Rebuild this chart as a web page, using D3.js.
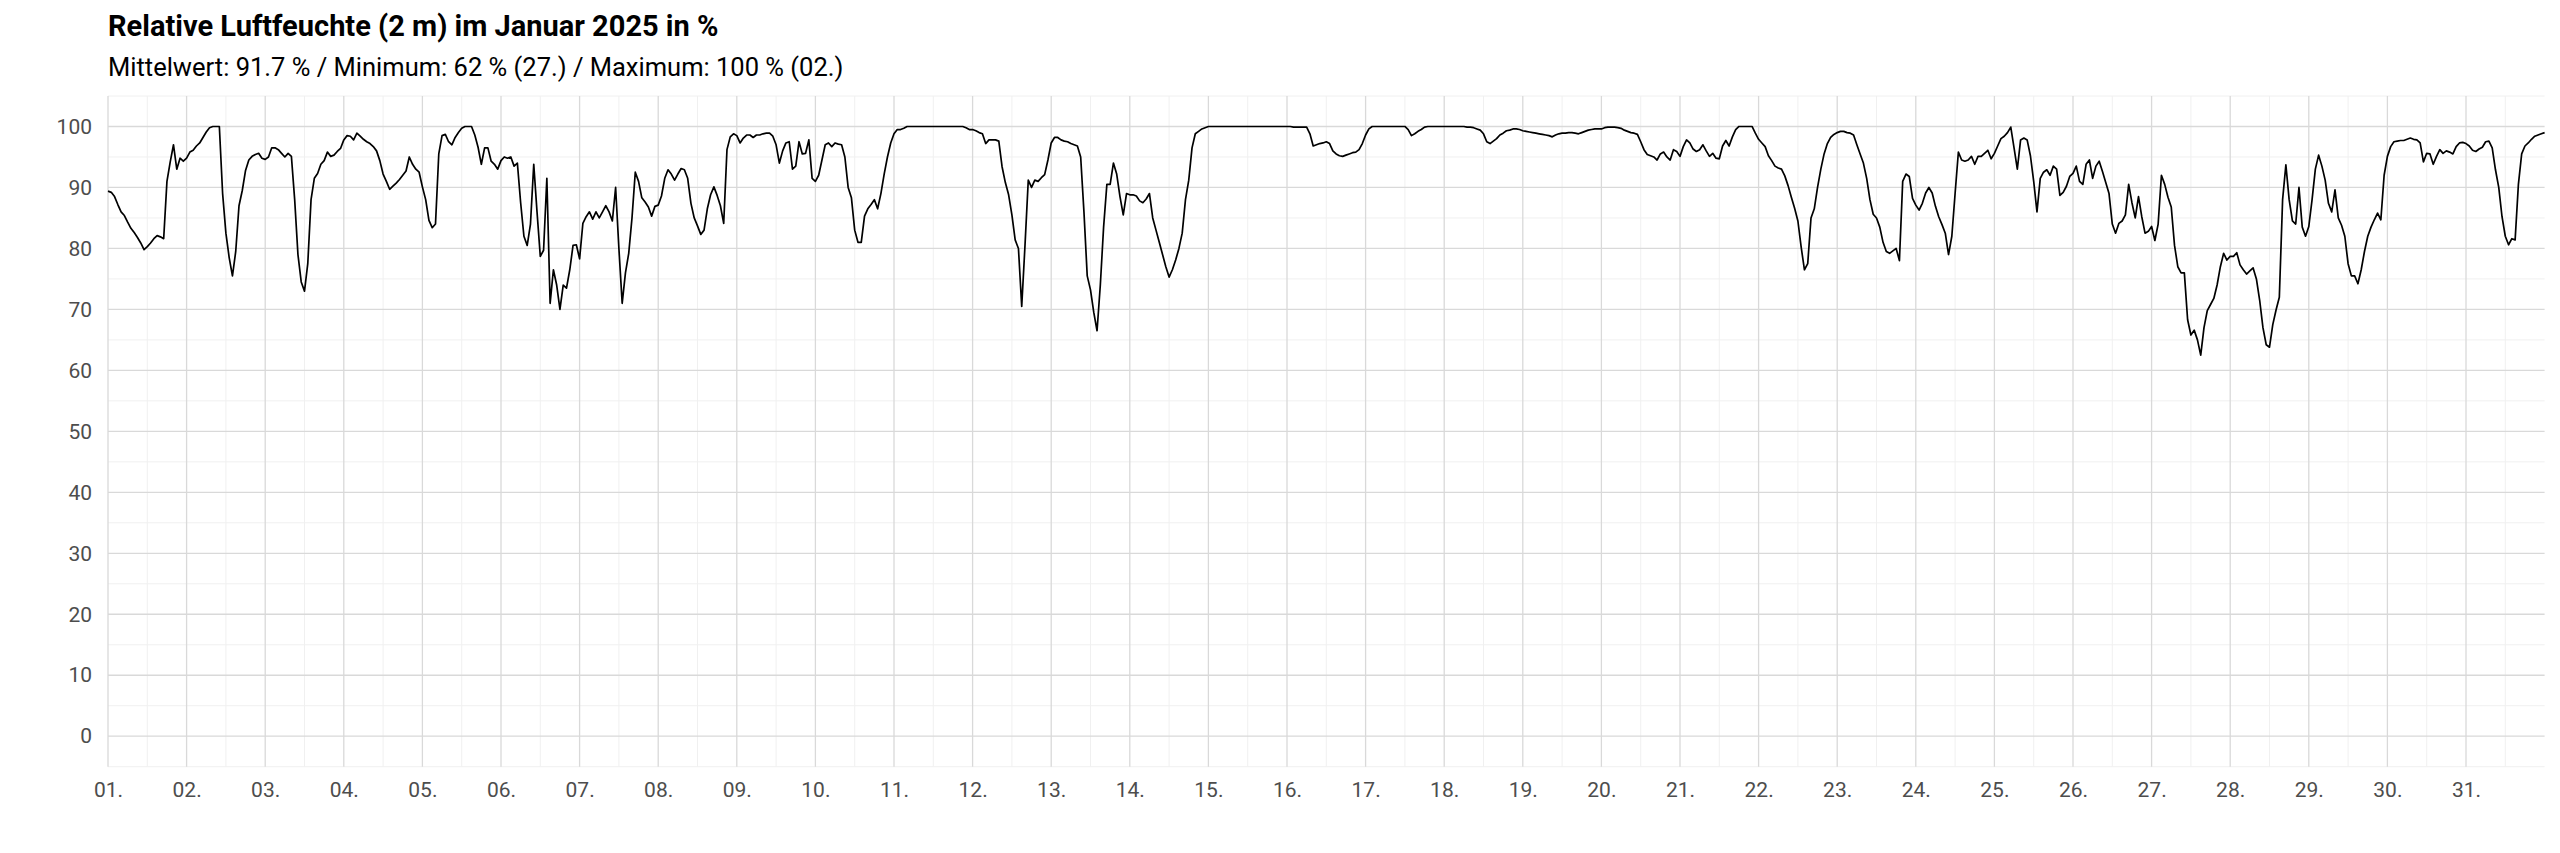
<!DOCTYPE html>
<html>
<head>
<meta charset="utf-8">
<script src="https://cdn.jsdelivr.net/npm/d3@7"></script>
<style>
  body { margin: 0; background: #fff; }
  svg { display: block; font-family: Roboto, "Noto Sans", sans-serif; }
</style>
</head>
<body>
<svg id="chart" width="2560" height="853"></svg>
<script>
// Titles
var title = "Relative Luftfeuchte (2 m) im Januar 2025 in %";
var subtitle = "Mittelwert: 91.7 % / Minimum: 62 % (27.) / Maximum: 100 % (02.)";

// Axis ticks
var yTicks = [0, 10, 20, 30, 40, 50, 60, 70, 80, 90, 100];
var yMinor = [-5, 5, 15, 25, 35, 45, 55, 65, 75, 85, 95, 105];

// Hourly relative humidity (%), one row per day, hours 00..23
var rh = [
  [89.4, 89.2, 88.5, 87.2, 86.0, 85.4, 84.3, 83.3, 82.6, 81.8, 80.9, 79.8, 80.3, 80.9, 81.6, 82.1, 81.9, 81.6, 91.0, 94.2, 97.0, 93.0, 94.8, 94.3],
  [94.8, 95.8, 96.1, 96.8, 97.3, 98.2, 99.1, 99.8, 100, 100, 100, 89.0, 82.5, 78.5, 75.5, 79.5, 87.0, 89.5, 92.8, 94.5, 95.1, 95.4, 95.6, 94.8],
  [94.6, 95.0, 96.5, 96.5, 96.2, 95.6, 95.0, 95.6, 95.1, 88.0, 79.0, 74.5, 73.0, 77.5, 88.0, 91.5, 92.3, 93.8, 94.4, 95.8, 95.1, 95.3, 95.9, 96.4],
  [97.8, 98.5, 98.4, 97.8, 98.9, 98.4, 97.9, 97.5, 97.2, 96.7, 96.0, 94.4, 92.2, 91.0, 89.7, 90.2, 90.7, 91.3, 92.0, 92.7, 95.0, 93.8, 93.0, 92.5],
  [90.1, 88.0, 84.6, 83.4, 84.0, 95.5, 98.5, 98.7, 97.5, 97.0, 98.2, 99.0, 99.7, 100, 100, 100, 98.6, 96.6, 93.8, 96.5, 96.5, 94.3, 93.8, 93.0],
  [94.4, 95.0, 94.8, 95.0, 93.5, 94.0, 87.5, 82.0, 80.5, 84.0, 93.8, 86.0, 78.7, 79.7, 91.5, 71.0, 76.5, 74.0, 70.0, 74.0, 73.5, 76.5, 80.5, 80.6],
  [78.3, 84.1, 85.2, 86.0, 84.8, 86.0, 85.0, 86.0, 87.0, 86.0, 84.5, 90.0, 80.0, 71.0, 76.0, 79.2, 85.0, 92.5, 91.0, 88.3, 87.6, 86.8, 85.3, 86.9],
  [87.1, 88.6, 91.5, 92.9, 92.2, 91.2, 92.2, 93.1, 92.9, 91.5, 87.4, 85.0, 83.7, 82.3, 83.0, 86.5, 88.8, 90.1, 88.7, 87.0, 84.1, 96.2, 98.3, 98.8],
  [98.5, 97.3, 98.1, 98.6, 98.6, 98.2, 98.6, 98.6, 98.8, 98.9, 98.9, 98.4, 97.0, 94.0, 96.0, 97.3, 97.5, 93.0, 93.5, 97.5, 95.5, 95.6, 97.8, 91.5],
  [91.0, 92.0, 94.5, 97.0, 97.3, 96.7, 97.3, 97.1, 97.0, 95.0, 90.0, 88.3, 83.0, 81.0, 81.0, 85.3, 86.5, 87.2, 88.0, 86.5, 89.0, 92.2, 95.0, 97.3],
  [98.8, 99.5, 99.5, 99.7, 100, 100, 100, 100, 100, 100, 100, 100, 100, 100, 100, 100, 100, 100, 100, 100, 100, 100, 99.8, 99.5],
  [99.5, 99.3, 99.0, 98.8, 97.2, 97.8, 97.8, 97.8, 97.6, 93.4, 90.8, 88.8, 85.5, 81.4, 80.0, 70.5, 80.5, 91.2, 90.0, 91.2, 91.0, 91.6, 92.1, 94.5],
  [97.3, 98.2, 98.2, 97.8, 97.6, 97.5, 97.2, 97.0, 96.8, 95.0, 86.0, 75.5, 73.2, 69.5, 66.5, 74.0, 83.5, 90.5, 90.5, 94.0, 92.2, 88.5, 85.5, 89.0],
  [88.8, 88.8, 88.6, 87.8, 87.5, 88.1, 89.0, 85.0, 83.0, 81.0, 79.0, 77.0, 75.3, 76.5, 78.1, 80.0, 82.5, 88.0, 91.2, 96.5, 98.8, 99.2, 99.6, 99.8],
  [100, 100, 100, 100, 100, 100, 100, 100, 100, 100, 100, 100, 100, 100, 100, 100, 100, 100, 100, 100, 100, 100, 100, 100],
  [100, 100, 99.9, 99.9, 99.9, 99.9, 99.9, 98.8, 96.8, 97.0, 97.2, 97.3, 97.5, 97.2, 96.0, 95.5, 95.2, 95.1, 95.3, 95.5, 95.7, 95.8, 96.2, 97.2],
  [98.6, 99.6, 100, 100, 100, 100, 100, 100, 100, 100, 100, 100, 100, 99.5, 98.5, 98.8, 99.2, 99.5, 99.9, 100, 100, 100, 100, 100],
  [100, 100, 100, 100, 100, 100, 100, 99.9, 99.9, 99.8, 99.6, 99.4, 98.8, 97.5, 97.2, 97.6, 98.0, 98.6, 98.9, 99.3, 99.4, 99.6, 99.6, 99.5],
  [99.3, 99.2, 99.1, 99.0, 98.9, 98.8, 98.7, 98.6, 98.5, 98.3, 98.6, 98.8, 98.9, 98.9, 99.0, 99.0, 98.9, 98.8, 99.0, 99.2, 99.4, 99.5, 99.6, 99.6],
  [99.6, 99.8, 99.9, 99.9, 99.9, 99.8, 99.7, 99.4, 99.2, 99.0, 98.9, 98.7, 97.5, 96.2, 95.4, 95.2, 95.0, 94.5, 95.5, 95.8, 95.0, 94.5, 96.2, 95.9],
  [95.1, 96.7, 97.8, 97.3, 96.3, 95.9, 96.2, 97.0, 96.0, 95.1, 95.6, 94.8, 94.7, 96.8, 97.7, 96.8, 98.3, 99.5, 100, 100, 100, 100, 100, 98.9],
  [97.9, 97.3, 96.7, 95.2, 94.4, 93.5, 93.2, 93.0, 91.9, 90.3, 88.4, 86.6, 84.5, 80.2, 76.5, 77.5, 85.0, 86.5, 90.0, 93.0, 95.5, 97.2, 98.2, 98.7],
  [99.0, 99.2, 99.2, 99.0, 98.9, 98.6, 97.0, 95.5, 94.0, 91.5, 88.0, 85.6, 85.0, 83.5, 81.0, 79.5, 79.2, 79.6, 80.0, 78.0, 91.0, 92.2, 91.8, 88.2],
  [87.1, 86.3, 87.4, 89.1, 90.0, 89.1, 86.9, 85.2, 83.9, 82.5, 79.0, 82.0, 89.0, 95.8, 94.5, 94.3, 94.5, 95.1, 93.8, 95.1, 95.1, 95.6, 96.1, 94.7],
  [95.6, 96.8, 98.0, 98.4, 99.0, 99.9, 96.5, 93.0, 97.8, 98.1, 97.8, 95.2, 91.0, 86.0, 91.5, 92.5, 92.9, 92.0, 93.5, 93.0, 88.7, 89.2, 90.2, 91.8],
  [92.3, 93.5, 91.0, 90.5, 93.8, 94.5, 91.5, 93.5, 94.3, 92.6, 90.8, 89.0, 84.0, 82.5, 84.1, 84.5, 85.5, 90.5, 87.5, 85.0, 88.5, 85.2, 82.5, 82.8],
  [83.6, 81.3, 84.0, 92.0, 90.5, 88.4, 86.8, 80.5, 77.0, 76.0, 76.0, 68.3, 65.8, 66.6, 65.0, 62.5, 67.0, 69.8, 70.8, 71.8, 74.0, 77.0, 79.2, 78.1],
  [78.7, 78.7, 79.3, 77.3, 76.5, 75.8, 76.3, 76.8, 75.0, 71.5, 67.0, 64.2, 63.8, 67.5, 69.9, 72.0, 88.0, 93.7, 88.0, 84.5, 84.0, 90.0, 83.5, 82.0],
  [83.6, 88.0, 93.0, 95.3, 93.5, 91.2, 87.4, 86.0, 89.6, 85.0, 83.8, 82.0, 77.5, 75.5, 75.5, 74.2, 76.5, 79.5, 82.0, 83.5, 84.7, 85.8, 84.7, 92.0],
  [95.1, 96.7, 97.5, 97.6, 97.7, 97.7, 97.9, 98.1, 97.9, 97.8, 97.3, 94.2, 95.6, 95.5, 93.8, 95.1, 96.2, 95.6, 96.0, 95.8, 95.5, 96.7, 97.3, 97.4],
  [97.2, 96.8, 96.1, 95.9, 96.3, 96.6, 97.5, 97.6, 96.5, 92.9, 90.0, 85.2, 82.0, 80.6, 81.6, 81.4, 90.5, 95.5, 96.8, 97.3, 97.9, 98.4, 98.6, 98.8]
];
var endValue = 99.0; // last reading at the end of 31.

// Layout
var svg = d3.select("#chart");
var margin = { left: 108, right: 15.4, top: 96, bottom: 86.3 };
var width = +svg.attr("width") - margin.left - margin.right,
    height = +svg.attr("height") - margin.top - margin.bottom;

var start = Date.UTC(2025, 0, 1);
var hour = 3600 * 1000;

var points = [];
rh.forEach(function(day, d) {
    day.forEach(function(v, h) {
        points.push({ t: new Date(start + (d * 24 + h) * hour), v: v });
    });
});
points.push({ t: new Date(start + rh.length * 24 * hour), v: endValue });

// Scales
var x = d3.scaleUtc()
    .domain([new Date(start), new Date(Date.UTC(2025, 1, 1))])
    .range([0, width]);
var y = d3.scaleLinear()
    .domain([-5, 105])
    .range([height, 0]);

var dayTicks = d3.utcDay.range(new Date(start), new Date(Date.UTC(2025, 1, 1)));
var halfDays = dayTicks.map(function(d) { return new Date(+d + 12 * hour); });

var g = svg.append("g")
    .attr("transform", "translate(" + margin.left + "," + margin.top + ")");

// Minor grid
g.append("g").selectAll("line")
    .data(yMinor).enter().append("line")
    .attr("x1", 0).attr("x2", width)
    .attr("y1", function(d) { return y(d); }).attr("y2", function(d) { return y(d); })
    .attr("stroke", "#f0f0f0").attr("stroke-width", 1);
g.append("g").selectAll("line")
    .data(halfDays).enter().append("line")
    .attr("y1", 0).attr("y2", height)
    .attr("x1", function(d) { return x(d); }).attr("x2", function(d) { return x(d); })
    .attr("stroke", "#f0f0f0").attr("stroke-width", 1);

// Major grid
g.append("g").selectAll("line")
    .data(yTicks).enter().append("line")
    .attr("x1", 0).attr("x2", width)
    .attr("y1", function(d) { return y(d); }).attr("y2", function(d) { return y(d); })
    .attr("stroke", "#d9d9d9").attr("stroke-width", 1.3);
g.append("g").selectAll("line")
    .data(dayTicks).enter().append("line")
    .attr("y1", 0).attr("y2", height)
    .attr("x1", function(d) { return x(d); }).attr("x2", function(d) { return x(d); })
    .attr("stroke", "#d9d9d9").attr("stroke-width", 1.3);

// Axes (labels only)
var yAxis = g.append("g")
    .call(d3.axisLeft(y).tickValues(yTicks).tickSize(0).tickPadding(16));
var xAxis = g.append("g")
    .attr("transform", "translate(0," + height + ")")
    .call(d3.axisBottom(x).tickValues(dayTicks).tickSize(0).tickPadding(15)
        .tickFormat(d3.utcFormat("%d.")));
[yAxis, xAxis].forEach(function(a) {
    a.select(".domain").remove();
    a.selectAll("text")
        .attr("fill", "#4d4d4d")
        .style("font-size", "21px")
        .style("font-family", "Roboto, sans-serif");
});

// The line
var line = d3.line()
    .x(function(d) { return x(d.t); })
    .y(function(d) { return y(d.v); });
g.append("path")
    .datum(points)
    .attr("fill", "none")
    .attr("stroke", "#000")
    .attr("stroke-width", 1.7)
    .attr("stroke-linejoin", "round")
    .attr("d", line);

// Title and subtitle
svg.append("text")
    .attr("x", margin.left).attr("y", 36)
    .style("font-size", "29px").style("font-weight", "bold")
    .attr("fill", "#000")
    .text(title);
svg.append("text")
    .attr("x", margin.left).attr("y", 76)
    .style("font-size", "25.5px")
    .attr("fill", "#000")
    .text(subtitle);
</script>
</body>
</html>
